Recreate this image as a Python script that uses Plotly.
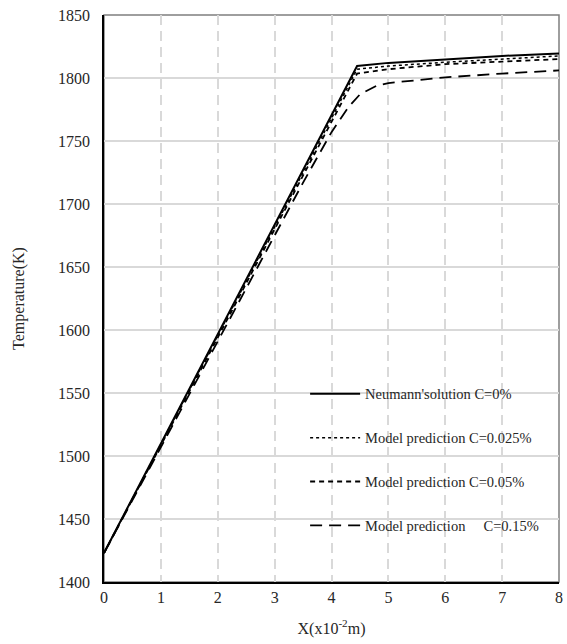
import plotly.graph_objects as go

# Data (x in 10^-2 m, temperature in K)
x_neu = [0, 1, 2, 3, 4, 4.45, 5, 6, 7, 8]
t_neu = [1423, 1510, 1597, 1684, 1770, 1809.5, 1812, 1815, 1817.5, 1819.5]

x_025 = [0, 1, 2, 3, 4, 4.45, 5, 6, 7, 8]
t_025 = [1423, 1509, 1596, 1682, 1768, 1807, 1809.5, 1812.5, 1815, 1817.5]

x_05 = [0, 1, 2, 3, 4, 4.45, 5, 6, 7, 8]
t_05 = [1423, 1508, 1594, 1680, 1765, 1803.5, 1807, 1811, 1813, 1815]

x_15 = [0, 1, 2, 3, 3.5, 4, 4.3, 4.5, 4.8, 5, 6, 7, 8]
t_15 = [1423, 1507, 1592, 1676, 1717, 1757, 1777, 1787, 1794, 1796, 1800.5, 1803.5, 1806]

names = ["Neumann'solution C=0%",
         "Model prediction C=0.025%",
         "Model prediction C=0.05%",
         "Model prediction\u00a0\u00a0\u00a0\u00a0\u00a0C=0.15%"]

FONT = "Liberation Serif, Times New Roman, serif"

fig = go.Figure()
series = [(x_neu, t_neu, "solid", 2.0),
          (x_025, t_025, "dot", 1.5),
          (x_05, t_05, "5px,4px", 1.8),
          (x_15, t_15, "12px,7px", 1.8)]
for i, (xs, ys, dash, w) in enumerate(series):
    fig.add_trace(go.Scatter(x=xs, y=ys, mode="lines", name=names[i],
                             legendgroup=f"g{i}",
                             line=dict(color="black", width=w, dash=dash)))

fig.update_layout(
    width=567, height=644,
    margin=dict(l=104, r=4, t=15, b=62),
    paper_bgcolor="white", plot_bgcolor="white",
    font=dict(family=FONT, size=16, color="#262626"),
    showlegend=True,
    legend=dict(x=0.442, y=0.36, xanchor="left", yanchor="top",
                bgcolor="rgba(0,0,0,0)", font=dict(family=FONT, size=14.5, color="#262626"),
                traceorder="grouped", tracegroupgap=22, itemwidth=50),
    xaxis=dict(range=[0, 8], dtick=1, tick0=0, showline=True, linecolor="black", linewidth=1.5,
               showgrid=True, gridcolor="#d9d9d9", gridwidth=1.5, griddash="10px,6px",
               zeroline=False, ticks="", ticklen=0,
               title=dict(text="X(x10<sup>-2</sup>m)", font=dict(size=16), standoff=18),
               tickfont=dict(size=16)),
    yaxis=dict(range=[1400, 1850], dtick=50, tick0=1400, showline=True, linecolor="black", linewidth=1.5,
               showgrid=True, gridcolor="#d9d9d9", gridwidth=1.5,
               zeroline=False, ticks="", ticklen=0, ticklabelstandoff=9,
               title=dict(text="Temperature(K)", font=dict(size=16), standoff=29),
               tickfont=dict(size=16)),
    shapes=[dict(type="rect", xref="paper", yref="paper", x0=0, x1=1, y0=0, y1=1,
                 line=dict(color="#7f7f7f", width=1.5), layer="below")],
)

fig.write_html("out.html")
